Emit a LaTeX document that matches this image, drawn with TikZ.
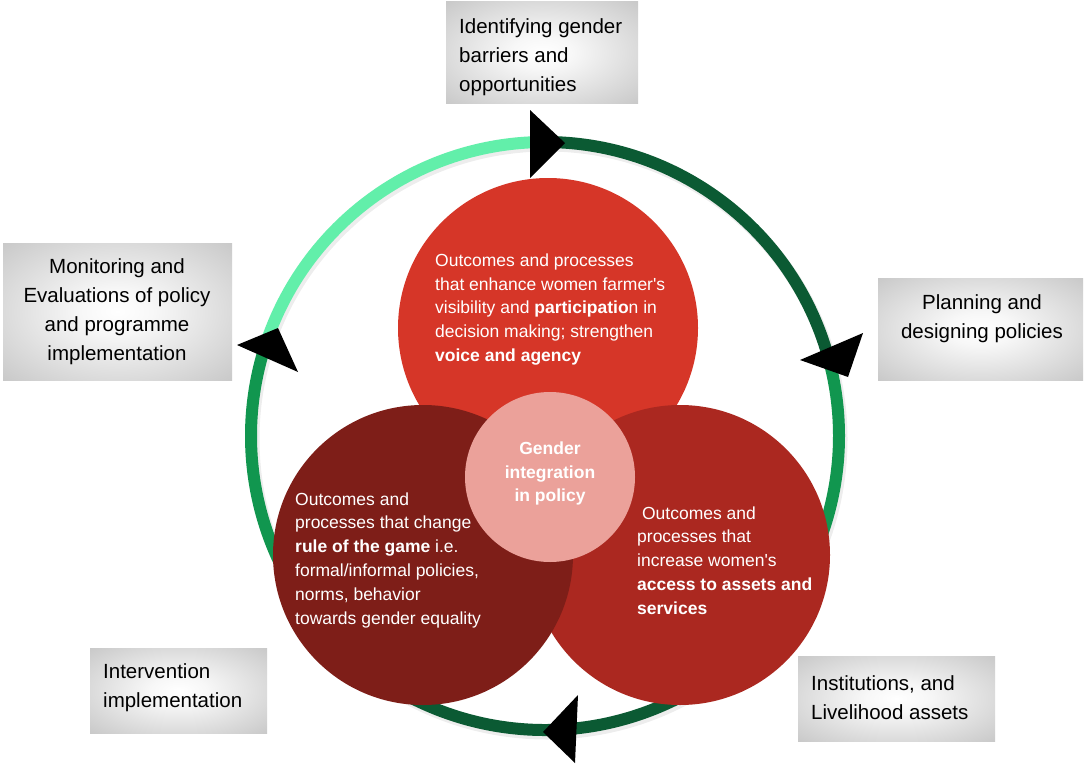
\documentclass[tikz,border=0pt]{standalone}
\usepackage{fontspec}
\setmainfont{Liberation Sans}
\definecolor{mint}{HTML}{62EFAA}
\definecolor{darkgreen}{HTML}{0B5A33}
\definecolor{midgreen}{HTML}{11964F}
\definecolor{redtop}{HTML}{D63628}
\definecolor{redright}{HTML}{AB2820}
\definecolor{redleft}{HTML}{7E1E18}
\definecolor{pinkc}{HTML}{EBA19A}
\pgfdeclareradialshading{boxshade}{\pgfpoint{0bp}{0bp}}{color(0bp)=(white); color(8bp)=(white!97!black); color(50bp)=(black!31); color(71bp)=(black!37)}
\begin{document}
\begin{tikzpicture}[x=1pt,y=-1pt,
  box/.style={rectangle, inner sep=0pt, draw=none, shading=boxshade},
  boxtext/.style={font=\fontsize{20.5}{29}\selectfont, text=black, inner sep=0pt},
  blob/.style={circle, inner sep=0pt, draw=none},
  blobtext/.style={font=\fontsize{17.5}{23.8}\selectfont, text=white, inner sep=0pt, align=left},
  ring/.style={line width=12pt},
  tri/.style={fill=black}
]
\useasboundingbox[fill=white] (0,0) rectangle (1084,768);

% ring shadow
\draw[line width=13pt, black, opacity=0.07] (547,439) circle[radius=294];
% ring segments
\coordinate (rc) at (545,436);
\draw[ring, mint]      (rc) ++(198:294) arc[start angle=198, end angle=270, radius=294];
\draw[ring, darkgreen] (rc) ++(270:294) arc[start angle=270, end angle=345, radius=294];
\draw[ring, midgreen]  (rc) ++(345:294) arc[start angle=345, end angle=400, radius=294];
\draw[ring, darkgreen] (rc) ++(40:294)  arc[start angle=40, end angle=140, radius=294];
\draw[ring, midgreen]  (rc) ++(140:294) arc[start angle=140, end angle=198, radius=294];

% circles
\node[blob, fill=redtop,   minimum size=300pt] (ctop)   at (548,328) {};
\node[blob, fill=redright, minimum size=300pt] (cright) at (680,555) {};
\node[blob, fill=redleft,  minimum size=300pt] (cleft)  at (423,555) {};
\node[blob, fill=pinkc,    minimum size=170pt] (ccen)   at (550,477) {};

% circle texts
\node[blobtext, anchor=west] (ttop) at (435,309.5) {Outcomes and processes\\that enhance women farmer\textquotesingle s\\visibility and \textbf{participatio}n in\\decision making; strengthen\\\textbf{voice and agency}};
\node[blobtext, anchor=west] (tleft) at (295,560) {Outcomes and\\processes that change\\\textbf{rule of the game} i.e.\\formal/informal policies,\\norms, behavior\\towards gender equality};
\node[blobtext, anchor=west] (tright) at (637,560.5) {\ Outcomes and\\processes that\\increase women\textquotesingle s\\\textbf{access to assets and}\\\textbf{services}};
\node[blobtext, align=center, font=\bfseries\fontsize{17.5}{23.8}\selectfont] (tcen) at (550,473.5) {Gender\\integration\\in policy};

% arrowheads
\fill[tri] (530,110) -- (530,178) -- (565,143) -- cycle;
\fill[tri] (800,360) -- (863,333) -- (848,377) -- cycle;
\fill[tri] (543,732) -- (578,695) -- (575,763) -- cycle;
\fill[tri] (237,345) -- (278,328) -- (298,372) -- cycle;

% boxes
\node[box, minimum width=192pt, minimum height=101pt] (btop) at (542,52.5) {};
\node[boxtext, anchor=west, align=left] (ltop) at (459,57) {Identifying gender\\barriers and\\opportunities};

\node[box, minimum width=229pt, minimum height=137pt] (bleft) at (117.5,311.5) {};
\node[boxtext, align=center] (lleft) at (117,312) {Monitoring and\\Evaluations of policy\\and programme\\implementation};

\node[box, minimum width=205pt, minimum height=102pt] (bright) at (980.5,329) {};
\node[boxtext, align=center] (lright) at (982,318.5) {Planning and\\designing policies};

\node[box, minimum width=177pt, minimum height=85pt] (bbl) at (178.5,690.5) {};
\node[boxtext, anchor=west, align=left] (lbl) at (103,688) {Intervention\\implementation};

\node[box, minimum width=197pt, minimum height=85pt] (bbr) at (896.5,698.5) {};
\node[boxtext, anchor=west, align=left] (lbr) at (811,698) {Institutions, and\\Livelihood assets};
\end{tikzpicture}
\end{document}
